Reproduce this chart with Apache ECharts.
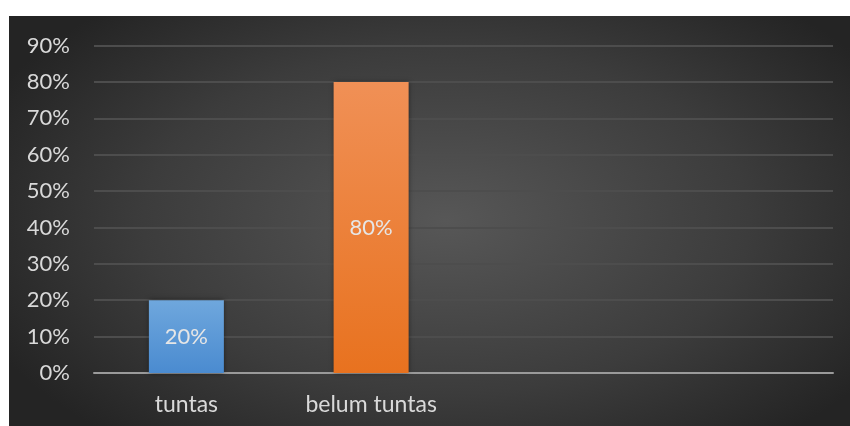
<!DOCTYPE html>
<html>
<head>
<meta charset="utf-8">
<script src="https://cdn.jsdelivr.net/npm/echarts@6/dist/echarts.min.js"></script>
<style>
html,body{margin:0;padding:0;background:#fff;}
#bg{position:absolute;left:9px;top:16px;width:841px;height:410px;
background:radial-gradient(ellipse 60% 70% at 52% 50%, #575757 0%, #3c3c3c 60%, #242424 100%);}
#chart{position:absolute;left:0;top:0;width:850px;height:426px;}
</style>
</head>
<body>
<div id="bg"></div>
<div id="chart"></div>
<script>
const categories = ['tuntas', 'belum tuntas', '', ''];
const values = [20, 80, null, null];
const yTicks = [0, 10, 20, 30, 40, 50, 60, 70, 80, 90];

const barColors = [
  ['#6fa7dd', '#4a8bd0'],
  ['#f09056', '#e8721f']
];

const chart = echarts.init(document.getElementById('chart'), null, {renderer: 'canvas'});
const FONT = 'Lato';
chart.setOption({
  backgroundColor: 'transparent',
  animation: false,
  grid: {left: 94, right: 17, top: 45.5, bottom: 53, containLabel: false},
  xAxis: {
    type: 'category',
    data: categories,
    axisLine: {show: true, lineStyle: {color: '#9a9a9a', width: 2}},
    axisTick: {show: false},
    axisLabel: {color: '#d9d9d9', fontSize: 23, fontFamily: FONT, margin: 20}
  },
  yAxis: {
    type: 'value',
    min: yTicks[0],
    max: yTicks[yTicks.length - 1],
    interval: 10,
    axisLine: {show: false},
    axisTick: {show: false},
    splitLine: {lineStyle: {color: '#4d4d4d', width: 2}},
    axisLabel: {color: '#d9d9d9', fontSize: 22, fontFamily: FONT, margin: 24, formatter: '{value}%'}
  },
  series: [{
    type: 'bar',
    barWidth: '40.6%',
    data: values.map((v, i) => v == null ? null : {
      value: v,
      itemStyle: {
        color: new echarts.graphic.LinearGradient(0, 0, 0, 1, [
          {offset: 0, color: barColors[i][0]},
          {offset: 1, color: barColors[i][1]}
        ]),
        shadowBlur: 5,
        shadowColor: 'rgba(0,0,0,0.5)'
      }
    }),
    label: {
      show: true,
      position: 'inside',
      color: '#e6e6e6',
      fontSize: 22,
      fontFamily: FONT,
      formatter: '{c}%'
    }
  }]
});
</script>
</body>
</html>
